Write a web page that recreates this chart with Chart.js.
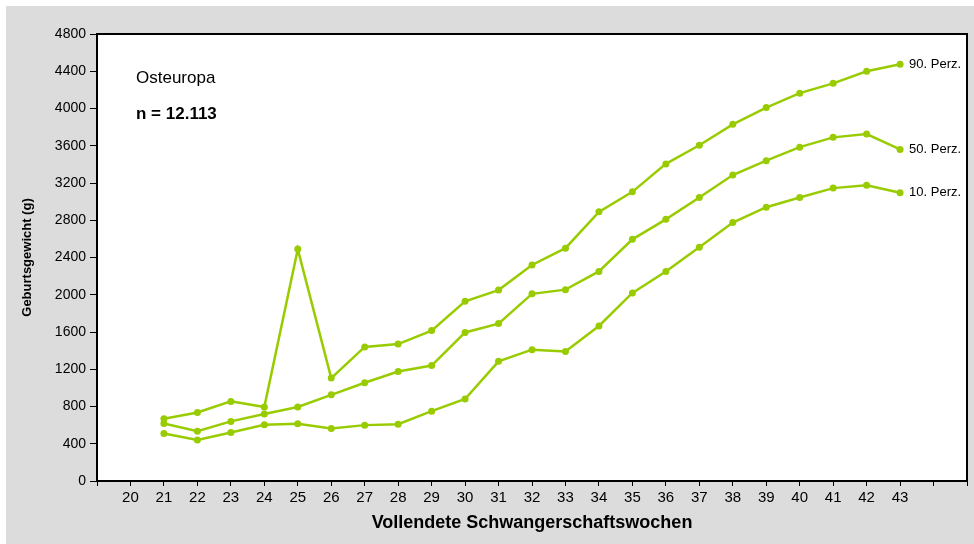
<!DOCTYPE html>
<html>
<head>
<meta charset="utf-8">
<script src="https://cdn.jsdelivr.net/npm/chart.js@4"></script>
<style>
  body { margin: 0; background: #fff; }
  #wrap { position: absolute; left: 6px; top: 6px; width: 968px; height: 538px; background: #dcdcdc; }
</style>
</head>
<body>
<div id="wrap"><canvas id="chart" width="968" height="538"></canvas></div>
<script>
const weeks = [21, 22, 23, 24, 25, 26, 27, 28, 29, 30, 31, 32, 33, 34, 35, 36, 37, 38, 39, 40, 41, 42, 43];
const perz90 = [668, 735, 855, 795, 2490, 1105, 1440, 1470, 1615, 1930, 2050, 2320, 2500, 2890, 3105, 3405, 3605, 3830, 4010, 4165, 4270, 4400, 4475];
const perz50 = [618, 535, 640, 720, 795, 925, 1055, 1175, 1240, 1595, 1690, 2010, 2055, 2250, 2595, 2810, 3045, 3285, 3440, 3585, 3690, 3725, 3560];
const perz10 = [510, 440, 520, 605, 615, 565, 600, 610, 750, 880, 1285, 1410, 1390, 1665, 2020, 2250, 2510, 2775, 2940, 3045, 3145, 3175, 3095];
const seriesLabels = ['90. Perz.', '50. Perz.', '10. Perz.'];
const xLabels = [20, 21, 22, 23, 24, 25, 26, 27, 28, 29, 30, 31, 32, 33, 34, 35, 36, 37, 38, 39, 40, 41, 42, 43];

const green = '#99cc00';
const font = "'Liberation Sans', Arial, sans-serif";

function toPoints(values) {
    return weeks.map((w, i) => ({ x: w, y: values[i] }));
}

function makeSet(label, values) {
    return {
        label: label,
        data: toPoints(values),
        borderColor: green,
        backgroundColor: green,
        borderWidth: 2.5,
        pointRadius: 3.5,
        pointBorderWidth: 0,
        pointBackgroundColor: green,
        tension: 0
    };
}

// white plot area, black frame and the text inside the plot
const framePlugin = {
    id: 'frame',
    beforeDraw(chart) {
        const { ctx, chartArea: a } = chart;
        ctx.save();
        ctx.fillStyle = '#fff';
        ctx.fillRect(a.left, a.top, a.right - a.left, a.bottom - a.top);
        ctx.restore();
    },
    afterDraw(chart) {
        const { ctx, chartArea: a } = chart;
        ctx.save();
        ctx.strokeStyle = '#000';
        ctx.lineWidth = 2;
        ctx.strokeRect(a.left, a.top, a.right - a.left, a.bottom - a.top);

        ctx.fillStyle = '#000';
        ctx.textBaseline = 'middle';
        ctx.textAlign = 'left';
        ctx.font = '17px ' + font;
        ctx.fillText('Osteuropa', 130, 72);
        ctx.font = 'bold 17px ' + font;
        ctx.fillText('n = 12.113', 130, 108);

        ctx.font = '13px ' + font;
        chart.data.datasets.forEach((ds, i) => {
            const pts = chart.getDatasetMeta(i).data;
            const last = pts[pts.length - 1];
            ctx.fillText(seriesLabels[i], last.x + 9, last.y);
        });
        ctx.restore();
    }
};

new Chart(document.getElementById('chart'), {
    type: 'line',
    data: {
        datasets: [
            makeSet(seriesLabels[0], perz90),
            makeSet(seriesLabels[1], perz50),
            makeSet(seriesLabels[2], perz10)
        ]
    },
    options: {
        responsive: false,
        animation: false,
        devicePixelRatio: 1,
        layout: { padding: { left: 0, top: 28, right: 7, bottom: 0 } },
        plugins: {
            legend: { display: false },
            tooltip: { enabled: false }
        },
        scales: {
            x: {
                type: 'linear',
                min: 19,
                max: 45,
                afterFit(scale) { scale.height = 63; },
                afterBuildTicks(scale) {
                    const t = [];
                    for (let v = 19; v <= 45; v++) t.push({ value: v });
                    scale.ticks = t;
                },
                ticks: {
                    autoSkip: false,
                    maxRotation: 0,
                    padding: 3,
                    color: '#000',
                    font: { family: font, size: 15 },
                    callback: v => xLabels.includes(v) ? String(v) : ''
                },
                grid: { drawOnChartArea: false, drawTicks: true, tickLength: 5, color: '#000', lineWidth: 1 },
                border: { display: false },
                title: {
                    display: true,
                    text: 'Vollendete Schwangerschaftswochen',
                    color: '#000',
                    font: { family: font, size: 18, weight: 'bold' },
                    padding: { top: 0, bottom: 10 }
                }
            },
            y: {
                min: 0,
                max: 4800,
                afterFit(scale) { scale.width = 91; },
                ticks: {
                    stepSize: 400,
                    padding: 4,
                    color: '#000',
                    font: { family: font, size: 14 },
                    callback: v => String(v)
                },
                grid: { drawOnChartArea: false, drawTicks: true, tickLength: 7, color: '#000', lineWidth: 1 },
                border: { display: false },
                title: {
                    display: true,
                    text: 'Geburtsgewicht (g)',
                    color: '#000',
                    font: { family: font, size: 13, weight: 'bold' },
                    padding: { top: 14, bottom: 0 }
                }
            }
        }
    },
    plugins: [framePlugin]
});
</script>
</body>
</html>
